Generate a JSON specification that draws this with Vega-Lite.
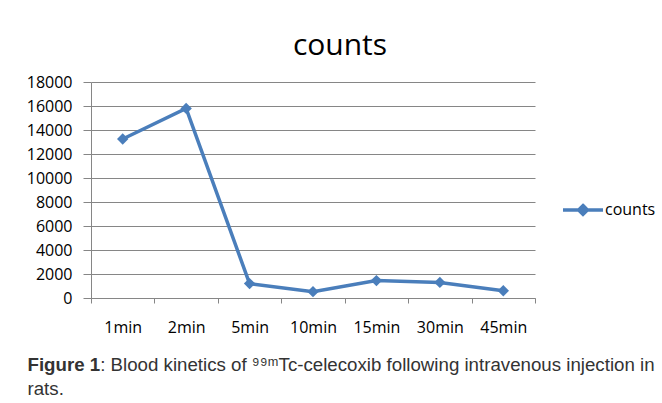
{
  "$schema": "https://vega.github.io/schema/vega-lite/v6.json",
  "width": 444,
  "height": 216,
  "autosize": {"type": "none"},
  "padding": {"left": 91, "top": 82, "right": 127, "bottom": 105},
  "background": "white",
  "title": {
    "text": "counts",
    "anchor": "middle",
    "frame": "group",
    "dx": 27,
    "dy": 38,
    "fontSize": 30,
    "font": "Open Sans",
    "fontWeight": "normal",
    "color": "black",
    "baseline": "alphabetic",
    "offset": 27
  },
  "data": {
    "values": [
      {"time": "1min", "counts": 13250, "series": "counts"},
      {"time": "2min", "counts": 15800, "series": "counts"},
      {"time": "5min", "counts": 1200, "series": "counts"},
      {"time": "10min", "counts": 530, "series": "counts"},
      {"time": "15min", "counts": 1450, "series": "counts"},
      {"time": "30min", "counts": 1300, "series": "counts"},
      {"time": "45min", "counts": 600, "series": "counts"}
    ]
  },
  "mark": {
    "type": "line",
    "strokeWidth": 3.5,
    "point": {"shape": "diamond", "size": 130, "filled": true}
  },
  "encoding": {
    "x": {
      "field": "time",
      "type": "ordinal",
      "sort": null,
      "scale": {"type": "band", "paddingInner": 0, "paddingOuter": 0},
      "axis": {
        "grid": false,
        "tickBand": "extent",
        "tickSize": 5,
        "tickColor": "#868686",
        "domainColor": "#868686",
        "labelPadding": 16,
        "labelAngle": 0,
        "labelFont": "Open Sans",
        "labelFontSize": 16,
        "labelColor": "black",
        "title": ["\u200b\u00a0\u00a0\u00a0\u00a0\u00a0\u00a0\u00a0\u00a0\u00a0\u00a0\u00a0\u00a0\u00a0\u00a0: Blood kinetics of \u2079\u2079\u1d50Tc-celecoxib following intravenous injection in", "rats."],
        "titleX": -64,
        "titleY": 72,
        "titleAlign": "left",
        "titleAnchor": "start",
        "titleBaseline": "alphabetic",
        "titleFont": "Liberation Sans",
        "titleFontSize": 18.7,
        "titleFontWeight": "normal",
        "titleColor": "#333333",
        "titleLineHeight": 24
      }
    },
    "y": {
      "field": "counts",
      "type": "quantitative",
      "scale": {"domain": [0, 18000], "nice": false},
      "axis": {
        "values": [0, 2000, 4000, 6000, 8000, 10000, 12000, 14000, 16000, 18000],
        "format": "d",
        "grid": true,
        "gridColor": "#868686",
        "gridWidth": 1,
        "domainColor": "#868686",
        "tickColor": "#868686",
        "tickSize": 8,
        "labelPadding": 11,
        "labelFont": "Open Sans",
        "labelFontSize": 16,
        "labelColor": "black",
        "title": "Figure 1",
        "titleAngle": 0,
        "titleX": -64,
        "titleY": 288,
        "titleAlign": "left",
        "titleBaseline": "alphabetic",
        "titleFont": "Liberation Sans",
        "titleFontSize": 18.7,
        "titleFontWeight": "bold",
        "titleColor": "#333333"
      }
    },
    "color": {
      "field": "series",
      "type": "nominal",
      "scale": {"range": ["#4a7ebb"]},
      "legend": {
        "orient": "none",
        "legendX": 470,
        "legendY": 106,
        "title": null,
        "padding": 0,
        "labelFont": "Open Sans",
        "labelFontSize": 16,
        "labelColor": "black",
        "labelOffset": 0,
        "symbolType": "M-1,0H1M0,-0.22L0.22,0L0,0.22L-0.22,0Z",
        "symbolSize": 1600,
        "symbolStrokeWidth": 3.5,
        "symbolFillColor": "#4a7ebb",
        "symbolStrokeColor": "#4a7ebb",
        "encode": {
          "symbols": {
            "update": {
              "fill": {"value": "#4a7ebb"},
              "stroke": {"value": "#4a7ebb"},
              "shape": {"value": "M-1,0H1M0,-0.22L0.22,0L0,0.22L-0.22,0Z"},
              "size": {"value": 1600},
              "strokeWidth": {"value": 3.5},
              "opacity": {"value": 1}
            }
          }
        }
      }
    }
  },
  "config": {"view": {"stroke": null}}
}
